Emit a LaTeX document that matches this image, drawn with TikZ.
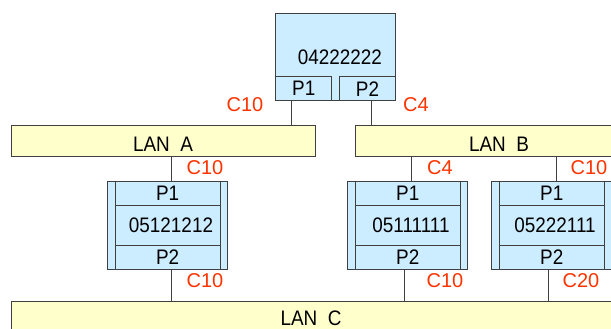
\documentclass[tikz,border=0pt]{standalone}
\usepackage{fontspec}
\newfontfamily\diagfont[FakeStretch=0.9]{Liberation Sans}
\newfontfamily\costfont{Liberation Sans}
\definecolor{brblue}{HTML}{CCECFF}
\definecolor{lanyellow}{HTML}{FFFFCC}
\definecolor{costred}{HTML}{FF3300}
\definecolor{wiregray}{gray}{0.25}
\usetikzlibrary{positioning,calc}
\tikzset{
  lanbar/.style={draw=wiregray, fill=lanyellow, line width=0.8pt,
                 minimum height=31.7pt, inner sep=0pt},
  bridge/.style={draw=wiregray, fill=brblue, line width=0.8pt,
                 minimum width=120pt, minimum height=#1, inner sep=0pt},
  port/.style={draw=wiregray, fill=brblue, line width=0.8pt,
               minimum width=#1, minimum height=24pt, inner sep=0pt,
               font=\diagfont\fontsize{21}{21}\selectfont},
  txt/.style={inner sep=0pt, font=\diagfont\fontsize{21}{21}\selectfont},
  cost/.style={inner sep=0pt, text=costred, font=\costfont\fontsize{20}{20}\selectfont},
  wire/.style={draw=wiregray, line width=0.8pt},
}

\begin{document}
\begin{tikzpicture}[x=1pt, y=-1pt]
\useasboundingbox (0,0) rectangle (611,329);
\clip (0,0) rectangle (611,329);

% --- LAN segments ---
\node[lanbar, minimum width=304pt] (lana) at (163.7,140.85) {};
\node[txt] (lanatext) at (163,144) {LAN\enspace A};
\node[lanbar, minimum width=356pt] (lanb) at (533.7,140.85) {};
\node[txt] (lanbtext) at (499,144) {LAN\enspace B};
\node[lanbar, minimum width=700pt, minimum height=40pt] (lanc) at (361.7,321.7) {};
\node[txt] (lanctext) at (311,318.2) {LAN\enspace C};

% --- Root bridge ---
\node[bridge=87.4pt] (root) at (335.7,57) {};
\node[txt] (rootid) at (339.8,57) {04222222};
\node[port=56pt, above right=0pt of root.south west] (rp1) {P1};
\node[port=56.4pt, above left=0pt of root.south east] (rp2) {P2};

% --- Bridge 05121212 ---
\node[bridge=88pt] (br1) at (167.7,225) {};
\node[txt] (br1id) at (171,225) {05121212};
\node[port=104.5pt, below=0pt of br1.north] (br1p1) {P1};
\node[port=104.5pt, above=0pt of br1.south] (br1p2) {P2};
\draw[wire] (br1p1.south west) -- (br1p2.north west);
\draw[wire] (br1p1.south east) -- (br1p2.north east);

% --- Bridge 05111111 ---
\node[bridge=88pt] (br2) at (407.7,225) {};
\node[txt] (br2id) at (411,225) {05111111};
\node[port=104.5pt, below=0pt of br2.north] (br2p1) {P1};
\node[port=104.5pt, above=0pt of br2.south] (br2p2) {P2};
\draw[wire] (br2p1.south west) -- (br2p2.north west);
\draw[wire] (br2p1.south east) -- (br2p2.north east);

% --- Bridge 05222111 ---
\node[bridge=88pt] (br3) at (551.7,225) {};
\node[txt] (br3id) at (555,225) {05222111};
\node[port=104.5pt, below=0pt of br3.north] (br3p1) {P1};
\node[port=104.5pt, above=0pt of br3.south] (br3p2) {P2};
\draw[wire] (br3p1.south west) -- (br3p2.north west);
\draw[wire] (br3p1.south east) -- (br3p2.north east);

% --- Links ---
\coordinate (ra) at ([xshift=-12pt]rp1.south);
\coordinate (rb) at ([xshift=4.2pt]rp2.south);
\draw[wire] (ra) -- (ra |- lana.north);
\draw[wire] (rb) -- (rb |- lanb.north);
\coordinate (a1) at ([xshift=4pt]br1.north);
\coordinate (a2) at ([xshift=4pt]br1.south);
\draw[wire] (a1 |- lana.south) -- (a1);
\draw[wire] (a2) -- (a2 |- lanc.north);
\coordinate (b1) at ([xshift=4pt]br2.north);
\coordinate (b2) at ([xshift=-3.7pt]br2.south);
\draw[wire] (b1 |- lanb.south) -- (b1);
\draw[wire] (b2) -- (b2 |- lanc.north);
\coordinate (c1) at ([xshift=4.3pt]br3.north);
\coordinate (c2) at ([xshift=-3.4pt]br3.south);
\draw[wire] (c1 |- lanb.south) -- (c1);
\draw[wire] (c2) -- (c2 |- lanc.north);

% --- Path costs ---
\node[cost] (cra) at (245,105) {C10};
\node[cost] (crb) at (416,105) {C4};
\node[cost] (ca1) at (205,168) {C10};
\node[cost] (ca2) at (205,281) {C10};
\node[cost] (cb1) at (440,168) {C4};
\node[cost] (cb2) at (445,281) {C10};
\node[cost] (cc1) at (589,168) {C10};
\node[cost] (cc2) at (581,281) {C20};

\end{tikzpicture}
\end{document}
